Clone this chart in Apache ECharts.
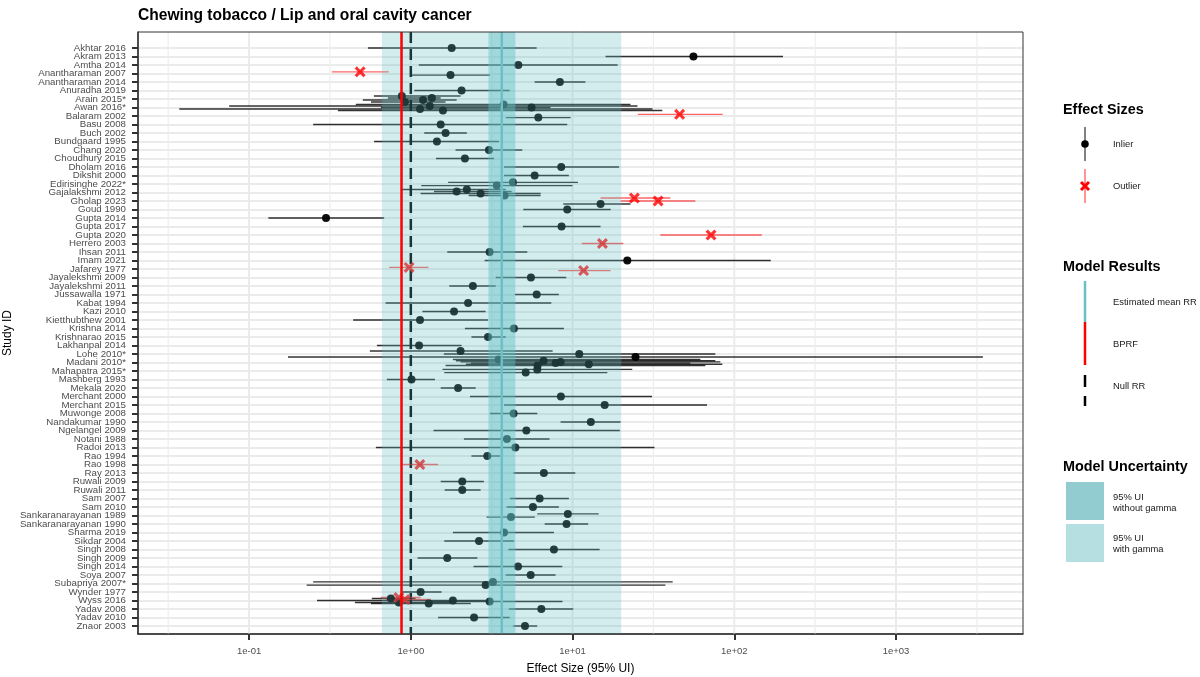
<!DOCTYPE html>
<html>
<head>
<meta charset="utf-8">
<script src="https://cdn.jsdelivr.net/npm/echarts@6/dist/echarts.min.js"></script>
<style>
html, body { margin: 0; padding: 0; background: #fff; }
#main { width: 1200px; height: 677px; }
</style>
</head>
<body>
<div id="main"></div>
<script>
const studies = [
  'Akhtar 2016', 'Akram 2013', 'Amtha 2014', 'Anantharaman 2007', 'Anantharaman 2014',
  'Anuradha 2019', 'Arain 2015*', 'Awan 2016*', 'Balaram 2002', 'Basu 2008',
  'Buch 2002', 'Bundgaard 1995', 'Chang 2020', 'Choudhury 2015', 'Dholam 2016',
  'Dikshit 2000', 'Edirisinghe 2022*', 'Gajalakshmi 2012', 'Gholap 2023', 'Goud 1990',
  'Gupta 2014', 'Gupta 2017', 'Gupta 2020', 'Herrero 2003', 'Ihsan 2011',
  'Imam 2021', 'Jafarey 1977', 'Jayalekshmi 2009', 'Jayalekshmi 2011', 'Jussawalla 1971',
  'Kabat 1994', 'Kazi 2010', 'Kietthubthew 2001', 'Krishna 2014', 'Krishnarao 2015',
  'Lakhanpal 2014', 'Lohe 2010*', 'Madani 2010*', 'Mahapatra 2015*', 'Mashberg 1993',
  'Mekala 2020', 'Merchant 2000', 'Merchant 2015', 'Muwonge 2008', 'Nandakumar 1990',
  'Ngelangel 2009', 'Notani 1988', 'Radoi 2013', 'Rao 1994', 'Rao 1998',
  'Ray 2013', 'Ruwali 2009', 'Ruwali 2011', 'Sam 2007', 'Sam 2010',
  'Sankaranarayanan 1989', 'Sankaranarayanan 1990', 'Sharma 2019', 'Sikdar 2004', 'Singh 2008',
  'Singh 2009', 'Singh 2014', 'Soya 2007', 'Subapriya 2007*', 'Wynder 1977',
  'Wyss 2016', 'Yadav 2008', 'Yadav 2010', 'Znaor 2003'
]

// one entry per estimate (row number of the study, top to bottom within a study)
const obsStudy = [
  1, 2, 3, 4, 4, 5, 6, 7, 7, 7, 7, 8, 8, 8, 8, 8, 9, 9, 10,
  11, 12, 13, 14, 15, 16, 17, 17, 18, 18, 18, 18, 19, 19, 19, 20,
  21, 22, 23, 24, 25, 26, 27, 27, 28, 29, 30,
  31, 32, 33, 34, 35, 36, 37, 37, 37, 38, 38, 38, 38, 38, 38, 39, 39, 40,
  41, 42, 43, 44, 45, 46, 47, 48, 49, 50,
  51, 52, 53, 54, 55, 56, 56, 57, 58, 59, 60,
  61, 62, 63, 64, 64, 65, 66, 66, 66, 66, 66, 66, 66, 67, 68, 69
]
const obsRR = [
  1.79, 55.9, 4.62, 0.486, 1.76, 8.35, 2.06, 0.88, 1.35, 1.19, 0.92, 3.75, 1.31, 5.58, 1.14, 1.58, 45.9, 6.14, 1.53,
  1.64, 1.45, 3.04, 2.16, 8.51, 5.83, 4.28, 3.40, 2.22, 1.92, 2.70, 3.80, 24.1, 33.8, 14.9, 9.27,
  0.299, 8.55, 71.8, 15.3, 3.07, 21.8, 0.976, 11.7, 5.53, 2.42, 6.0,
  2.26, 1.85, 1.14, 4.34, 3.0, 1.125, 2.03, 11.0, 24.5, 3.49, 6.62, 8.43, 7.85, 12.6, 6.08, 6.05, 5.13, 1.01,
  1.96, 8.47, 15.8, 4.32, 12.97, 5.18, 3.93, 4.43, 2.97, 1.137,
  6.65, 2.08, 2.08, 6.26, 5.69, 9.35, 4.16, 9.18, 3.77, 2.64, 7.67,
  1.68, 4.60, 5.51, 3.22, 2.90, 1.15, 0.843, 0.753, 0.918, 1.82, 3.07, 0.843, 1.29, 6.41, 2.46, 5.08
]
const obsLower = [
  0.543, 16.0, 1.12, 0.325, 1.0, 5.83, 1.05, 0.591, 0.721, 0.505, 0.567, 0.457, 0.0753, 0.653, 0.037, 0.354, 25.3, 3.86, 0.249,
  1.21, 0.593, 1.89, 1.43, 3.77, 3.77, 1.70, 1.16, 0.867, 1.39, 1.15, 2.28, 14.9, 19.8, 8.76, 4.96,
  0.1316, 4.93, 34.9, 11.4, 1.68, 2.86, 0.735, 8.16, 3.35, 1.73, 4.40,
  0.698, 1.18, 0.44, 2.16, 2.37, 0.617, 0.558, 1.60, 0.174, 1.82, 1.90, 2.03, 2.35, 2.19, 1.64, 1.57, 1.61, 0.711,
  1.53, 2.32, 3.77, 3.09, 8.43, 1.38, 2.13, 0.608, 2.37, 0.889,
  4.30, 1.53, 1.62, 4.10, 3.91, 6.05, 2.94, 6.72, 1.82, 1.61, 4.01,
  1.10, 2.44, 3.86, 0.249, 0.227, 0.889, 0.653, 0.574, 0.70, 0.263, 1.33, 0.451, 0.567, 4.04, 1.475, 4.28
]
const obsUpper = [
  6.0, 200, 19.0, 0.731, 3.09, 12.0, 4.08, 2.03, 1.53, 1.92, 1.64, 22.8, 25.2, 7.31, 31.2, 35.9, 84.7, 9.72, 9.27,
  2.22, 3.51, 4.89, 3.27, 19.4, 9.49, 10.8, 10.0, 3.86, 4.20, 6.35, 6.35, 40.3, 57.4, 22.8, 17.2,
  0.684, 14.9, 148, 20.6, 5.25, 168, 1.286, 17.2, 9.14, 3.35, 8.23,
  7.39, 2.90, 3.0, 8.84, 3.86, 2.06, 7.53, 76.3, 3443, 61.7, 76.3, 82, 53.5, 84.3, 66.2, 23.4, 16.4, 1.41,
  2.52, 31.0, 67.8, 6.05, 19.8, 19.6, 7.21, 32.1, 3.56, 1.475,
  10.4, 2.83, 2.70, 9.49, 8.23, 14.5, 5.85, 12.5, 7.67, 4.34, 14.7,
  2.58, 8.64, 7.85, 41.6, 37.5, 1.55, 1.15, 1.07, 1.33, 3.12, 8.67, 1.77, 2.35, 10.1, 4.08, 6.05
]
const obsOutlier = [
  0, 0, 0, 1, 0, 0, 0, 0, 0, 0, 0, 0, 0, 0, 0, 0, 1, 0, 0,
  0, 0, 0, 0, 0, 0, 0, 0, 0, 0, 0, 0, 1, 1, 0, 0,
  0, 0, 1, 1, 0, 0, 1, 1, 0, 0, 0,
  0, 0, 0, 0, 0, 0, 0, 0, 0, 0, 0, 0, 0, 0, 0, 0, 0, 0,
  0, 0, 0, 0, 0, 0, 0, 0, 0, 1,
  0, 0, 0, 0, 0, 0, 0, 0, 0, 0, 0,
  0, 0, 0, 0, 0, 0, 1, 0, 1, 0, 0, 0, 0, 0, 0, 0
]

const meanRR = 3.65
const bprf = 0.876
const nullRR = 1
const uiWithoutGamma = [3.02, 4.43]
const uiWithGamma = [0.662, 20.0]
const xTicks = [0.1, 1, 10, 100, 1000]
const xTickLabels = ['1e-01', '1e+00', '1e+01', '1e+02', '1e+03']

// the x axis is drawn on log10 of the effect size
const lg = Math.log10
const X_MIN = -1.6868
const X_MAX = 3.785
const Y_MIN = -0.88
const Y_MAX = 69.94
const FONT = '"Liberation Sans", Arial, sans-serif'
const X_SHAPE = 'path://M2,0L5,3L8,0L10,2L7,5L10,8L8,10L5,7L2,10L0,8L3,5L0,2Z'

// dodge several estimates of one study around its row
const counts = {}
obsStudy.forEach(s => { counts[s] = (counts[s] || 0) + 1 })
const seen = {}
const yPos = obsStudy.map(s => {
  const k = counts[s]
  seen[s] = seen[s] === undefined ? 0 : seen[s] + 1
  if (k === 1) return s
  const spread = Math.min(0.7, 0.38 * (k - 1))
  return s - spread / 2 + spread * seen[s] / (k - 1)
})

const inBars = []
const outBars = []
const inPts = []
const outPts = []
obsRR.forEach((v, i) => {
  if (obsOutlier[i]) {
    outBars.push([lg(obsLower[i]), lg(obsUpper[i]), yPos[i]])
    outPts.push([lg(v), yPos[i]])
  } else {
    inBars.push([lg(obsLower[i]), lg(obsUpper[i]), yPos[i]])
    inPts.push([lg(v), yPos[i]])
  }
})

const rowTicks = studies.map((s, i) => i + 1)
// empty labels at both ends so every study name stays visible
const rowLabels = [Y_MIN].concat(rowTicks, [Y_MAX])
const xTickPos = xTicks.map(lg)
const minorGrid = [-1.5, -0.5, 0.5, 1.5, 2.5, 3.5]

function barItem(color, width) {
  return function(params, api) {
    const a = api.coord([api.value(0), api.value(2)])
    const b = api.coord([api.value(1), api.value(2)])
    return {
      type: 'line',
      shape: { x1: a[0], y1: a[1], x2: b[0], y2: b[1] },
      style: { stroke: color, lineWidth: width }
    }
  }
}

function vline(color, width, dash) {
  return function(params, api) {
    const a = api.coord([api.value(0), api.value(1)])
    const b = api.coord([api.value(0), api.value(2)])
    return {
      type: 'line',
      shape: { x1: a[0], y1: a[1], x2: b[0], y2: b[1] },
      style: { stroke: color, lineWidth: width, lineDash: dash || null }
    }
  }
}

function band(color) {
  return function(params, api) {
    const a = api.coord([api.value(0), api.value(2)])
    const b = api.coord([api.value(1), api.value(3)])
    return {
      type: 'rect',
      shape: {
        x: Math.min(a[0], b[0]),
        y: Math.min(a[1], b[1]),
        width: Math.abs(b[0] - a[0]),
        height: Math.abs(b[1] - a[1])
      },
      style: { fill: color }
    }
  }
}

const legendText = (x, y, text) => ({
  type: 'text', x: x, y: y, silent: true,
  style: { text: text, font: '9.4px ' + FONT, fill: '#1a1a1a', verticalAlign: 'middle' }
})
const legendTitle = (x, y, text) => ({
  type: 'text', x: x, y: y, silent: true,
  style: { text: text, font: 'bold 14.4px ' + FONT, fill: '#000', verticalAlign: 'middle' }
})
const seg = (x1, y1, x2, y2, color, w) => ({
  type: 'line', silent: true,
  shape: { x1: x1, y1: y1, x2: x2, y2: y2 },
  style: { stroke: color, lineWidth: w }
})

const myChart = echarts.init(document.getElementById('main'))
const option = {
  animation: false,
  backgroundColor: '#fff',
  title: {
    text: 'Chewing tobacco / Lip and oral cavity cancer',
    left: 133,
    top: 3,
    textStyle: { fontFamily: FONT, fontSize: 15.6, fontWeight: 'bold', color: '#000' }
  },
  grid: { left: 138, right: 177, top: 32, bottom: 43, outerBoundsMode: 'none', containLabel: false },
  xAxis: {
    type: 'value',
    min: X_MIN,
    max: X_MAX,
    name: 'Effect Size (95% UI)',
    nameLocation: 'middle',
    nameGap: 29,
    nameTextStyle: { fontFamily: FONT, fontSize: 12, color: '#000' },
    axisLine: { show: true, onZero: false, lineStyle: { color: '#333', width: 1.5 } },
    axisTick: { show: true, length: 6, customValues: xTickPos, lineStyle: { color: '#333', width: 2 } },
    axisLabel: {
      customValues: xTickPos,
      margin: 12,
      fontFamily: FONT,
      fontSize: 9.5,
      color: '#4d4d4d',
      formatter: v => xTickLabels[xTickPos.indexOf(Math.round(v))] || ''
    },
    splitLine: { show: false }
  },
  yAxis: {
    type: 'value',
    inverse: true,
    min: Y_MIN,
    max: Y_MAX,
    name: 'Study ID',
    nameLocation: 'middle',
    nameGap: 124,
    nameMoveOverlap: false,
    nameTextStyle: { fontFamily: FONT, fontSize: 12, color: '#000' },
    axisLine: { show: true, onZero: false, lineStyle: { color: '#333', width: 1.5 } },
    axisTick: { show: true, length: 6, customValues: rowTicks, lineStyle: { color: '#333', width: 2 } },
    axisLabel: {
      customValues: rowLabels,
      hideOverlap: false,
      margin: 12,
      fontFamily: FONT,
      fontSize: 9.7,
      color: '#4d4d4d',
      formatter: v => studies[Math.round(v) - 1] || ''
    },
    splitLine: { show: true, lineStyle: { color: '#ebebeb', width: 2 } }
  },
  series: [
    {
      type: 'custom', z: 1, silent: true,
      data: minorGrid.map(v => [v, Y_MIN, Y_MAX]),
      encode: { x: 0, y: [1, 2] },
      renderItem: vline('#eeeeee', 1.2)
    },
    {
      type: 'custom', z: 1, silent: true,
      data: xTickPos.map(v => [v, Y_MIN, Y_MAX]),
      encode: { x: 0, y: [1, 2] },
      renderItem: vline('#ebebeb', 2)
    },
    {
      type: 'custom', z: 2, silent: true,
      data: [[lg(nullRR), Y_MIN, Y_MAX]],
      encode: { x: 0, y: [1, 2] },
      renderItem: vline('#000', 2.5, [11, 6])
    },
    {
      type: 'custom', z: 3, silent: true,
      data: inBars,
      encode: { x: [0, 1], y: 2 },
      renderItem: barItem('rgba(0,0,0,0.8)', 1.4)
    },
    {
      type: 'custom', z: 3, silent: true,
      data: outBars,
      encode: { x: [0, 1], y: 2 },
      renderItem: barItem('rgba(255,0,0,0.6)', 1.4)
    },
    {
      type: 'scatter', z: 4, silent: true,
      data: inPts,
      symbol: 'circle',
      symbolSize: 8,
      itemStyle: { color: '#000', opacity: 0.95 }
    },
    {
      type: 'scatter', z: 4, silent: true,
      data: outPts,
      symbol: X_SHAPE,
      symbolSize: 11,
      itemStyle: { color: '#ff0000' }
    },
    {
      type: 'custom', z: 5, silent: true,
      data: [[lg(uiWithGamma[0]), lg(uiWithGamma[1]), Y_MIN, Y_MAX]],
      encode: { x: [0, 1], y: [2, 3] },
      renderItem: band('rgba(98,190,195,0.28)')
    },
    {
      type: 'custom', z: 6, silent: true,
      data: [[lg(uiWithoutGamma[0]), lg(uiWithoutGamma[1]), Y_MIN, Y_MAX]],
      encode: { x: [0, 1], y: [2, 3] },
      renderItem: band('rgba(98,190,195,0.45)')
    },
    {
      type: 'custom', z: 7, silent: true,
      data: [[lg(meanRR), Y_MIN, Y_MAX]],
      encode: { x: 0, y: [1, 2] },
      renderItem: vline('#6cbfc4', 2.5)
    },
    {
      type: 'custom', z: 7, silent: true,
      data: [[lg(bprf), Y_MIN, Y_MAX]],
      encode: { x: 0, y: [1, 2] },
      renderItem: vline('#ff0000', 2.5)
    }
  ],
  graphic: [
    {
      type: 'rect', z: 100, silent: true,
      shape: { x: 138, y: 32, width: 885, height: 602 },
      style: { fill: null, stroke: '#333', lineWidth: 1 }
    },
    legendTitle(1063, 110, 'Effect Sizes'),
    seg(1085, 127, 1085, 161, 'rgba(0,0,0,0.7)', 1.4),
    { type: 'circle', silent: true, shape: { cx: 1085, cy: 144, r: 3.8 }, style: { fill: '#000' } },
    legendText(1113, 144, 'Inlier'),
    seg(1085, 169, 1085, 203, 'rgba(255,0,0,0.6)', 1.4),
    seg(1081, 182, 1089, 190, '#ff0000', 3),
    seg(1081, 190, 1089, 182, '#ff0000', 3),
    legendText(1113, 186, 'Outlier'),
    legendTitle(1063, 267, 'Model Results'),
    seg(1085, 281, 1085, 322, '#6cbfc4', 2.5),
    legendText(1113, 302, 'Estimated mean RR'),
    seg(1085, 322, 1085, 365, '#ff0000', 2.5),
    legendText(1113, 344, 'BPRF'),
    seg(1085, 375, 1085, 387, '#000', 2.5),
    seg(1085, 396, 1085, 406, '#000', 2.5),
    legendText(1113, 386, 'Null RR'),
    legendTitle(1063, 467, 'Model Uncertainty'),
    { type: 'rect', silent: true, shape: { x: 1066, y: 482, width: 38, height: 38 }, style: { fill: '#92cbd0' } },
    { type: 'rect', silent: true, shape: { x: 1066, y: 524, width: 38, height: 38 }, style: { fill: '#b6dfe1' } },
    legendText(1113, 497, '95% UI'),
    legendText(1113, 508, 'without gamma'),
    legendText(1113, 538.5, '95% UI'),
    legendText(1113, 549.5, 'with gamma')
  ]
}
myChart.setOption(option)
</script>
</body>
</html>
